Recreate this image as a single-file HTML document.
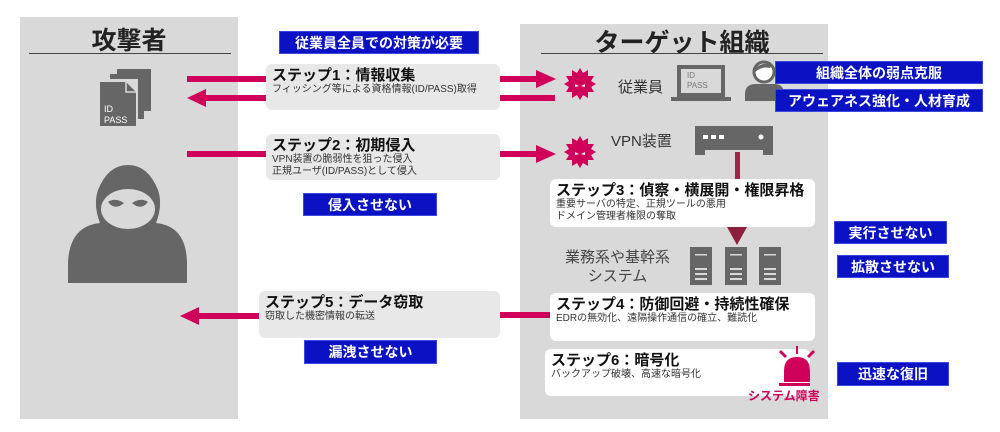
<!DOCTYPE html>
<html><head><meta charset="utf-8"><style>
body{margin:0;width:1000px;height:432px;background:#fff;position:relative;overflow:hidden;font-family:"Liberation Sans","Noto Sans CJK JP",sans-serif;}
.a{position:absolute}
.panel{background:#d9d9d9}
.blue{position:absolute;background:#0a12c4;color:#fff;font-weight:bold;font-size:14px;text-align:center;line-height:23px;border:1px solid #3a4ae0;box-sizing:border-box}
.box{position:absolute;border-radius:6px;box-sizing:border-box;padding:3px 6px;color:#222}
.box b{display:block;font-size:15px;line-height:17px;color:#111}
.box span{display:block;font-size:10px;line-height:12px;color:#333}
.g{background:#e8e8e8}.w{background:#fff}
</style></head><body>
<div class="a panel" style="left:20px;top:17px;width:218px;height:402px"></div>
<div class="a panel" style="left:520px;top:24px;width:308px;height:395px"></div>
<div class="a" style="left:20px;top:21px;width:218px;text-align:center;font-size:25px;font-weight:bold;color:#222">攻撃者</div>
<div class="a" style="left:29px;top:53px;width:202px;height:1px;background:#444"></div>
<div class="a" style="left:541px;top:23px;width:282px;text-align:center;font-size:25px;font-weight:bold;color:#222">ターゲット組織</div>
<div class="a" style="left:541px;top:53px;width:282px;height:1px;background:#444"></div>

<svg class="a" style="left:0;top:0" width="1000" height="432">
<rect x="117" y="69" width="34" height="42" fill="#666"/>
<rect x="110" y="74" width="34" height="45" fill="#d9d9d9"/>
<rect x="110" y="74" width="34" height="45" fill="#666"/>
<rect x="104" y="79" width="34" height="47" fill="#d9d9d9"/>
<path d="M100 82 H126 L136 92 V126 H100 Z" fill="#666"/>
<path d="M126 82 V92 H136" fill="none" stroke="#d9d9d9" stroke-width="1.5"/>
<text x="104" y="112" font-size="9" fill="#fff" font-family="Liberation Sans">ID</text>
<text x="104" y="123" font-size="9" fill="#fff" font-family="Liberation Sans">PASS</text>
<path d="M68 283 V262 Q70 226 100 223 Q93 205 98 190 Q108 165 128 165 Q148 165 158 190 Q163 205 156 223 Q186 226 187 262 V283 Z" fill="#666"/>
<ellipse cx="128" cy="209" rx="27" ry="20" fill="#d9d9d9"/>
<path d="M108 202 Q115 197 124 203 Q115 211 108 202Z M148 202 Q141 197 132 203 Q141 211 148 202Z" fill="#666"/>
<g fill="#d0005a">
<rect x="187" y="76" width="79" height="6"/>
<rect x="200" y="95" width="66" height="6"/><polygon points="187,98 206,89 206,107"/>
<rect x="500" y="76" width="40" height="6"/><polygon points="556,79 536,70 536,88"/>
<rect x="500" y="95" width="55" height="6"/>
<rect x="187" y="151" width="79" height="6"/>
<rect x="500" y="151" width="40" height="6"/><polygon points="556,154 536,145 536,163"/>
<rect x="198" y="313" width="62" height="6"/><polygon points="180,316 199,307 199,325"/>
<rect x="500" y="312" width="50" height="6"/>
</g>
<g fill="#d0005a">
<polygon points="580,68 583,73 588,70 588,76 594,76 591,81 596,84 591,87 594,92 588,92 588,98 583,95 580,100 577,95 572,98 572,92 566,92 569,87 564,84 569,81 566,76 572,76 572,70 577,73"/>
<polygon points="580,136 583,141 588,138 588,144 594,144 591,149 596,152 591,155 594,160 588,160 588,166 583,163 580,168 577,163 572,166 572,160 566,160 569,155 564,152 569,149 566,144 572,144 572,138 577,141"/>
</g>
<g fill="#fff"><path d="M575 84l4 2-4 1z M585 84l-4 2 4 1z M575 152l4 2-4 1z M585 152l-4 2 4 1z"/></g>
<rect x="677" y="65" width="48" height="32" fill="#666"/>
<rect x="681" y="69" width="40" height="24" fill="#d9d9d9"/>
<rect x="671" y="97" width="60" height="4" fill="#666"/>
<text x="687" y="78" font-size="8" fill="#777" font-family="Liberation Sans">ID</text>
<text x="687" y="88" font-size="8" fill="#777" font-family="Liberation Sans">PASS</text>
<circle cx="764" cy="72" r="10" fill="#fff" stroke="#666" stroke-width="3"/>
<path d="M755 70 Q760 61 772 65 L770 68 Q762 66 755 72Z" fill="#666"/>
<path d="M745 101 V94 Q745 84 756 84 H774 Q784 84 784 94 V101Z" fill="#666"/>
<rect x="695" y="126" width="78" height="24" fill="#666"/>
<rect x="695" y="150" width="10" height="5" fill="#666"/><rect x="763" y="150" width="10" height="5" fill="#666"/>
<rect x="703" y="135" width="5" height="4" fill="#fff"/><rect x="711" y="135" width="5" height="4" fill="#fff"/><rect x="719" y="135" width="5" height="4" fill="#fff"/>
<circle cx="761" cy="137" r="2.5" fill="#fff"/>
<rect x="735" y="152" width="5" height="28" fill="#a0244a"/>
<polygon points="727,227 747,227 737,245" fill="#8c1f3e"/>
<g fill="#666">
<rect x="690" y="247" width="22" height="38"/><rect x="725" y="247" width="22" height="38"/><rect x="759" y="247" width="22" height="38"/>
</g>
<g fill="#d9d9d9">
<rect x="695" y="254" width="12" height="1.5"/><rect x="695" y="268" width="12" height="2"/><rect x="695" y="273" width="12" height="2"/><rect x="695" y="278" width="12" height="2"/>
<rect x="730" y="254" width="12" height="1.5"/><rect x="730" y="268" width="12" height="2"/><rect x="730" y="273" width="12" height="2"/><rect x="730" y="278" width="12" height="2"/>
<rect x="764" y="254" width="12" height="1.5"/><rect x="764" y="268" width="12" height="2"/><rect x="764" y="273" width="12" height="2"/><rect x="764" y="278" width="12" height="2"/>
</g>
</svg>

<div class="blue" style="left:279px;top:31px;width:200px;height:23px">従業員全員での対策が必要</div>
<div class="box g" style="left:266px;top:64px;width:234px;height:46px"><b>ステップ1：情報収集</b><span>フィッシング等による資格情報(ID/PASS)取得</span></div>
<div class="box g" style="left:266px;top:134px;width:234px;height:46px"><b>ステップ2：初期侵入</b><span>VPN装置の脆弱性を狙った侵入<br>正規ユーザ(ID/PASS)として侵入</span></div>
<div class="blue" style="left:303px;top:193px;width:134px;height:23px">侵入させない</div>
<div class="box g" style="left:259px;top:291px;width:241px;height:47px"><b>ステップ5：データ窃取</b><span>窃取した機密情報の転送</span></div>
<div class="blue" style="left:304px;top:340px;width:133px;height:24px">漏洩させない</div>

<div class="a" style="left:618px;top:76px;font-size:15px;color:#333">従業員</div>
<div class="a" style="left:611px;top:130px;font-size:15px;color:#333">VPN装置</div>
<div class="a" style="left:565px;top:248px;width:105px;text-align:center;font-size:15px;line-height:19px;color:#444">業務系や基幹系<br>システム</div>
<div class="blue" style="left:775px;top:61px;width:208px;height:23px">組織全体の弱点克服</div>
<div class="blue" style="left:775px;top:89px;width:208px;height:23px">アウェアネス強化・人材育成</div>
<div class="box w" style="left:550px;top:179px;width:265px;height:48px"><b>ステップ3：偵察・横展開・権限昇格</b><span>重要サーバの特定、正規ツールの悪用<br>ドメイン管理者権限の奪取</span></div>
<div class="box w" style="left:550px;top:293px;width:265px;height:48px"><b>ステップ4：防御回避・持続性確保</b><span>EDRの無効化、遠隔操作通信の確立、難読化</span></div>
<div class="box w" style="left:545px;top:349px;width:265px;height:47px"><b>ステップ6：暗号化</b><span>バックアップ破壊、高速な暗号化</span></div>
<svg class="a" style="left:770px;top:340px" width="50" height="50">
<g fill="#d0005a">
<path d="M14 42 V31 Q14 17 27 17 Q40 17 40 31 V42Z"/>
<rect x="9" y="43" width="31" height="3"/>
<rect x="26" y="6" width="2" height="8"/>
<polygon points="9,12 11,10 17,16 15,18"/><polygon points="45,12 43,10 37,16 39,18"/>
</g>
</svg>
<div class="a" style="left:748px;top:387px;font-size:12px;font-weight:bold;color:#d0005a">システム障害</div>
<div class="blue" style="left:834px;top:221px;width:113px;height:23px">実行させない</div>
<div class="blue" style="left:837px;top:255px;width:112px;height:23px">拡散させない</div>
<div class="blue" style="left:837px;top:362px;width:112px;height:24px">迅速な復旧</div>
</body></html>
